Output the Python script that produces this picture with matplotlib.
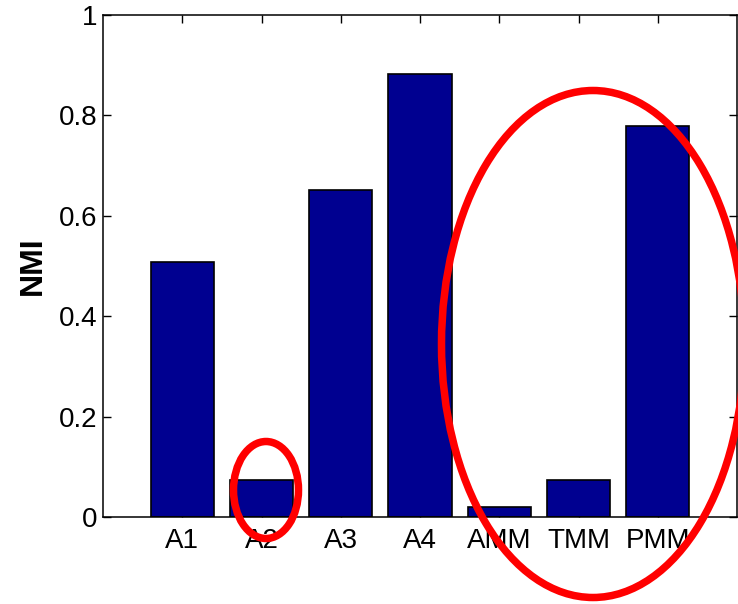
import numpy as np
import matplotlib
matplotlib.use("Agg")
import matplotlib.pyplot as plt
from matplotlib.patches import Ellipse

# NMI per method
methods = ["A1", "A2", "A3", "A4", "AMM", "TMM", "PMM"]
nmi = [0.507, 0.074, 0.651, 0.883, 0.019, 0.073, 0.778]
yticks = [0, 0.2, 0.4, 0.6, 0.8, 1]
ytick_labels = ["0", "0.2", "0.4", "0.6", "0.8", "1"]

plt.rcParams['font.family'] = ['Liberation Sans', 'DejaVu Sans']

fig = plt.figure(figsize=(7.38, 6.04), dpi=100)
ax = fig.add_axes([103 / 738, 87 / 604, 634 / 738, 502 / 604])

x = np.arange(1, len(methods) + 1)
ax.bar(x, nmi, width=0.8, color='#000090', edgecolor='black', linewidth=1.2, zorder=2)

ax.set_xlim(0, len(methods) + 1)
ax.set_ylim(0, 1)
ax.set_xticks(x)
ax.set_xticklabels(methods)
ax.set_yticks(yticks)
ax.set_yticklabels(ytick_labels)
ax.set_ylabel("NMI", fontsize=23, fontweight='bold', labelpad=8)

ax.tick_params(direction='in', length=6, width=1, labelsize=20, top=True, right=True, pad=4)
ax.tick_params(axis='x', pad=8)
for s in ax.spines.values():
    s.set_linewidth(1.1)

# red hand-drawn style ellipses (figure pixel coords -> fraction)
def fig_ellipse(cx, cy, w, h):
    e = Ellipse((cx / 738, 1 - cy / 604), w / 738, h / 604, transform=fig.transFigure,
                fill=False, edgecolor='#ff0000', linewidth=5.4, zorder=10)
    fig.add_artist(e)

fig_ellipse(266, 490, 65, 97)
fig_ellipse(593, 344, 303, 507)

fig.savefig("out.png", dpi=100)
